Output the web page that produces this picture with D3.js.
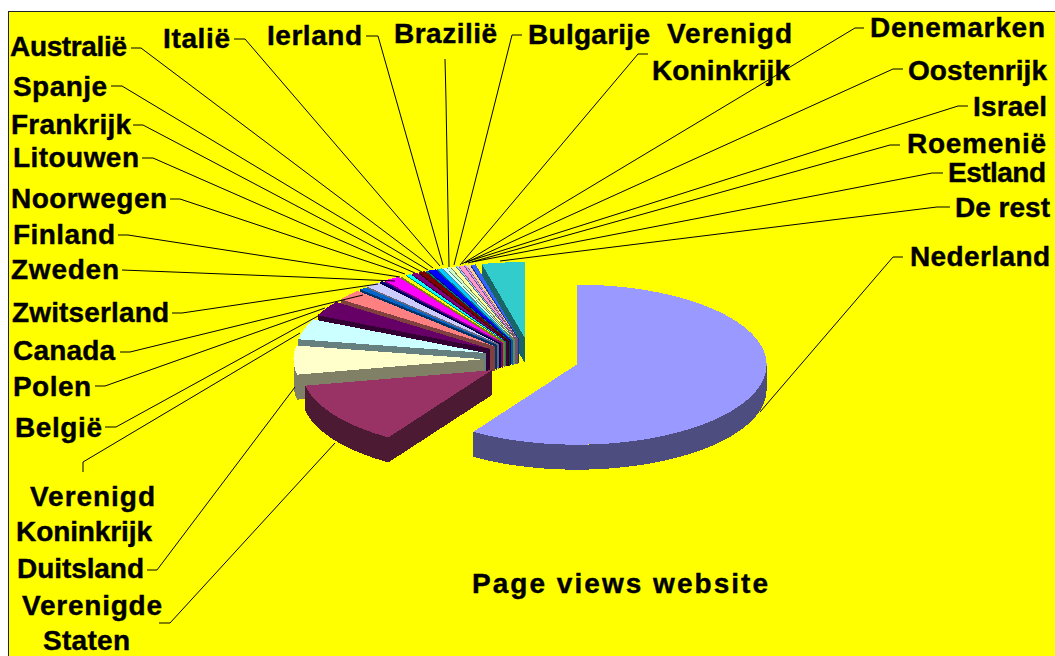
<!DOCTYPE html>
<html>
<head>
<meta charset="utf-8">
<script src="https://cdn.jsdelivr.net/npm/d3@7"></script>
<style>
  html, body { margin: 0; padding: 0; background: #fff; }
  svg { display: block; }
  text { font-family: "Liberation Sans", Arial, sans-serif; font-weight: bold; font-size: 28px; fill: #000; stroke: #000; stroke-width: 0.4px; }
</style>
</head>
<body>
<svg></svg>
<script>
var width = 1055;
var height = 656;

// percentage per country
var countries = ["Nederland", "Verenigde Staten", "Duitsland", "Verenigd Koninkrijk", "België", "Polen", "Canada",
	"Zwitserland", "Zweden", "Finland", "Noorwegen", "Litouwen", "Frankrijk", "Spanje", "Australië", "Italië",
	"Ierland", "Brazilië", "Bulgarije", "Verenigd Koninkrijk", "Denemarken", "Oostenrijk", "Israel", "Roemenië",
	"Estland", "De rest"];
var views = [59.17, 12.78, 5.83, 4.17, 3.06, 2.22, 0.56, 1.25, 0.28, 1.44, 0.42, 0.42, 0.56, 0.56, 0.14, 0.69,
	0.42, 0.28, 0.28, 0.42, 0.14, 0.42, 0.14, 0.28, 0.42, 3.7];
var colors = ["#9999FF", "#993366", "#FFFFCC", "#CCFFFF", "#660066", "#FF8080", "#0066CC", "#CCCCFF", "#000080",
	"#FF00FF", "#FFFF00", "#00FFFF", "#800080", "#800000", "#008080", "#0000FF", "#00CCFF", "#CCFFFF", "#CCFFCC",
	"#FFFF99", "#99CCFF", "#FF99CC", "#CC99FF", "#FFCC99", "#3366FF", "#33CCCC"];
var title = "Page views website";

// label placement, same order as countries: [x, baseline, width, text if split over lines]
var labelLines = [
	[[910, 266, 140]], [[22, 615, 140, "Verenigde"], [43, 650, 87, "Staten"]], [[17, 578, 127]],
	[[30, 506, 125, "Verenigd"], [16, 541, 136, "Koninkrijk"]], [[15, 437, 87]], [[13, 396, 78]], [[13, 360, 102]],
	[[12, 322, 157]], [[11, 279, 108]], [[13, 244, 102]], [[11, 208, 156]], [[13, 167, 126]], [[11, 134, 120]], [[13, 96, 94]],
	[[10, 56, 117]], [[163, 48, 67]], [[267, 45, 95]], [[394, 43, 103]], [[528, 44, 122]],
	[[667, 43, 125, "Verenigd"], [652, 80, 138, "Koninkrijk"]], [[870, 37, 175]], [[908, 80, 139]], [[973, 116, 74]],
	[[907, 153, 139]], [[948, 182, 98]], [[955, 217, 95]]
];
// leader lines: label end, elbow, point on the pie
var leaders = [
	[[903, 257], [893, 257], [760, 412]],
	[[159, 623], [170, 623], [335, 443]],
	[[147, 570], [157, 570], [295, 387]],
	[[83, 472], [83, 462], [300, 333]],
	[[105, 427], [116, 427], [318, 316]],
	[[95, 386], [105, 386], [325, 308]],
	[[120, 352], [130, 352], [363, 295]],
	[[172, 313], [182, 313], [378, 284]],
	[[122, 270], [300, 277], [395, 281]],
	[[118, 235], [128, 235], [400, 277]],
	[[170, 199], [180, 199], [405, 274]],
	[[142, 158], [153, 158], [415, 273]],
	[[133, 125], [143, 125], [422, 272]],
	[[111, 86], [122, 86], [428, 270]],
	[[131, 48], [141, 48], [433, 268]],
	[[234, 39], [245, 39], [440, 266]],
	[[366, 36], [378, 36], [443, 265]],
	[[445, 59], [446, 100], [449, 267]],
	[[522, 35], [512, 35], [454, 265]],
	[[648, 54], [638, 54], [460, 265]],
	[[864, 28], [855, 28], [462, 264]],
	[[903, 69], [893, 69], [465, 263]],
	[[968, 106], [958, 106], [466, 262]],
	[[900, 145], [890, 145], [468, 263]],
	[[943, 173], [932, 173], [472, 262]],
	[[950, 207], [937, 207], [500, 261]]
];

// the pie sits on a flattened unit circle, the far side a bit squeezed
var pieCx = 531, pieRx = 190;
var explode = 0.25;
var depth = 25;

var xScale = d3.scaleLinear().domain([-1, 1]).range([pieCx - pieRx, pieCx + pieRx]);
var yScale = d3.scaleLinear().domain([-1.25, -0.95, 1.25]).range([262, 283, 459]);

var svg = d3.select("svg").attr("width", width).attr("height", height);

svg.append("rect")
	.attr("x", 8.5).attr("y", 11.5)
	.attr("width", width).attr("height", height)
	.attr("fill", "#FFFF00")
	.attr("stroke", "#222");

var slices = d3.pie().sort(null)(views);
var line = d3.line();

function shade(c) {
	var rgb = d3.rgb(c);
	return d3.rgb(rgb.r * 0.5, rgb.g * 0.5, rgb.b * 0.5).formatHex();
}

function apex(d) {
	var mid = (d.startAngle + d.endAngle) / 2;
	return [explode * Math.sin(mid), -explode * Math.cos(mid)];
}

function rim(d, a, dy) {
	var o = apex(d);
	return [xScale(o[0] + Math.sin(a)), yScale(o[1] - Math.cos(a)) + (dy || 0)];
}

function arcAngles(a0, a1) {
	var n = Math.max(2, Math.ceil((a1 - a0) * 60));
	return d3.range(n + 1).map(i => a0 + (a1 - a0) * i / n);
}

// back to front, De rest first
var groups = svg.append("g").attr("shape-rendering", "crispEdges").selectAll("g")
	.data(slices.slice().reverse())
	.enter()
	.append("g");

groups.each(function(d) {
	var g = d3.select(this);
	var c = colors[d.index];
	var o = apex(d);
	var center = [xScale(o[0]), yScale(o[1])];

	// wall along the radial edge that faces the viewer
	if (d.startAngle > Math.PI) {
		var e = rim(d, d.startAngle);
		g.append("path")
			.attr("d", line([center, e, [e[0], e[1] + depth], [center[0], center[1] + depth]]) + "Z")
			.attr("fill", shade(c));
	}

	// outer wall, only the front half of the ellipse
	var w0 = Math.max(d.startAngle, Math.PI / 2), w1 = Math.min(d.endAngle, Math.PI * 1.5);
	if (w1 > w0) {
		var angles = arcAngles(w0, w1);
		var pts = angles.map(a => rim(d, a)).concat(angles.slice().reverse().map(a => rim(d, a, depth)));
		g.append("path").attr("d", line(pts) + "Z").attr("fill", shade(c));
	}

	// top face
	var top = [center].concat(arcAngles(d.startAngle, d.endAngle).map(a => rim(d, a)));
	g.append("path").attr("d", line(top) + "Z").attr("fill", c);
});

svg.append("g").selectAll("path")
	.data(leaders)
	.enter()
	.append("path")
		.attr("d", d => line(d))
		.attr("fill", "none")
		.attr("stroke", "#000")
		.attr("stroke-width", 1);

countries.forEach(function(name, i) {
	labelLines[i].forEach(function(l) {
		svg.append("text")
			.attr("x", l[0])
			.attr("y", l[1])
			.attr("textLength", l[2])
			.attr("lengthAdjust", "spacing")
			.text(l[3] || name);
	});
});

svg.append("text")
	.attr("x", 472)
	.attr("y", 593)
	.attr("textLength", 296)
	.attr("lengthAdjust", "spacing")
	.text(title);
</script>
</body>
</html>
